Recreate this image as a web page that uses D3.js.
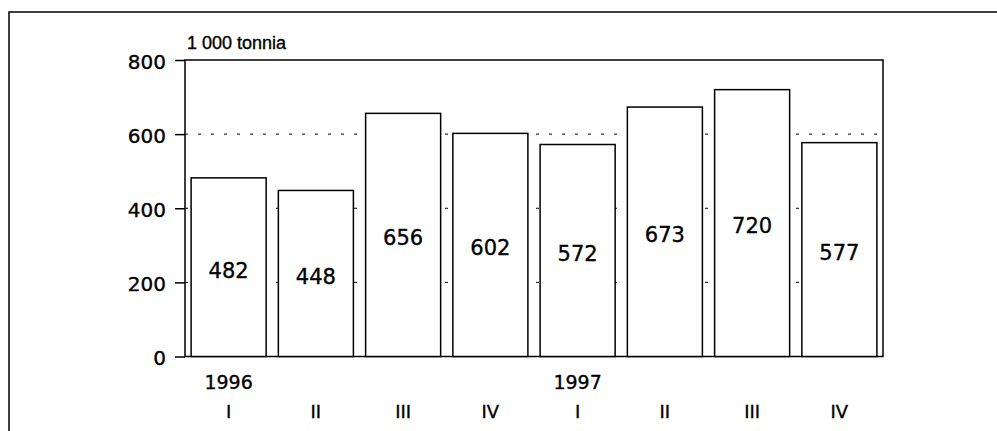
<!DOCTYPE html>
<html>
<head>
<meta charset="utf-8">
<script src="https://cdn.jsdelivr.net/npm/d3@7"></script>
<style>
  body { margin: 0; background: #fff; }
  svg { display: block; font-family: "DejaVu Sans", sans-serif; }
  text { fill: #000; stroke: #000; stroke-width: 0.35px; }
</style>
</head>
<body>
<div id="chart"></div>
<script>
const quarters = ['I', 'II', 'III', 'IV', 'I', 'II', 'III', 'IV'];
const years = ['1996', '', '', '', '1997', '', '', ''];
const values = [482, 448, 656, 602, 572, 673, 720, 577];
const yTicks = [0, 200, 400, 600, 800];
const gridValues = [200, 400, 600];
const unitLabel = '1 000 tonnia';

const width = 997, height = 431;
const margin = {top: 60, right: 114, bottom: 74.5, left: 185};
const innerWidth = width - margin.left - margin.right;
const innerHeight = height - margin.top - margin.bottom;

const svg = d3.select('#chart').append('svg')
  .attr('width', width)
  .attr('height', height);

// outer frame (top and left only, like the scan)
svg.append('path')
  .attr('d', `M9,431 V12 H997`)
  .attr('fill', 'none')
  .attr('stroke', '#000')
  .attr('stroke-width', 1.5);

const g = svg.append('g')
  .attr('transform', `translate(${margin.left},${margin.top})`);

const x = d3.scaleBand()
  .domain(d3.range(values.length))
  .range([0, innerWidth])
  .paddingInner(0.14)
  .paddingOuter(0.07);

const y = d3.scaleLinear()
  .domain([0, 800])
  .range([innerHeight, 0]);

// dashed gridlines
g.selectAll('.grid')
  .data(gridValues)
  .enter().append('line')
  .attr('x1', 0)
  .attr('x2', innerWidth)
  .attr('y1', d => y(d))
  .attr('y2', d => y(d))
  .attr('stroke', '#000')
  .attr('stroke-width', 1)
  .attr('stroke-dasharray', '3,10');

// plot frame
g.append('rect')
  .attr('width', innerWidth)
  .attr('height', innerHeight)
  .attr('fill', 'none')
  .attr('stroke', '#000')
  .attr('stroke-width', 1.5);

// bars
g.selectAll('.bar')
  .data(values)
  .enter().append('rect')
  .attr('x', (d, i) => x(i))
  .attr('y', d => y(d))
  .attr('width', x.bandwidth())
  .attr('height', d => innerHeight - y(d))
  .attr('fill', '#fff')
  .attr('stroke', '#000')
  .attr('stroke-width', 1.5);

g.selectAll('.val')
  .data(values)
  .enter().append('text')
  .attr('x', (d, i) => x(i) + x.bandwidth() / 2)
  .attr('y', d => (y(d) + innerHeight) / 2 + 3)
  .attr('dy', '0.35em')
  .attr('text-anchor', 'middle')
  .attr('font-size', 21)
  .text(d => d);

// y axis
const yAxis = g.append('g')
  .call(d3.axisLeft(y).tickValues(yTicks).tickSize(10).tickPadding(9))
  .attr('font-family', null)
  .attr('font-size', 20);
yAxis.select('.domain').remove();
yAxis.selectAll('line').attr('stroke-width', 1.5);
yAxis.selectAll('text').attr('dy', '0.4em');

// x labels
g.selectAll('.q')
  .data(quarters)
  .enter().append('text')
  .attr('x', (d, i) => x(i) + x.bandwidth() / 2)
  .attr('y', innerHeight + 55)
  .attr('dy', '0.35em')
  .attr('text-anchor', 'middle')
  .attr('font-size', 18)
  .text(d => d);

g.selectAll('.yr')
  .data(years)
  .enter().append('text')
  .attr('x', (d, i) => x(i) + x.bandwidth() / 2)
  .attr('y', innerHeight + 26)
  .attr('dy', '0.35em')
  .attr('text-anchor', 'middle')
  .attr('font-size', 19)
  .text(d => d);

svg.append('text')
  .attr('x', margin.left + 2)
  .attr('y', 49)
  .attr('font-family', '"Liberation Sans", Arial, sans-serif')
  .attr('font-size', 18)
  .text(unitLabel);
</script>
</body>
</html>
